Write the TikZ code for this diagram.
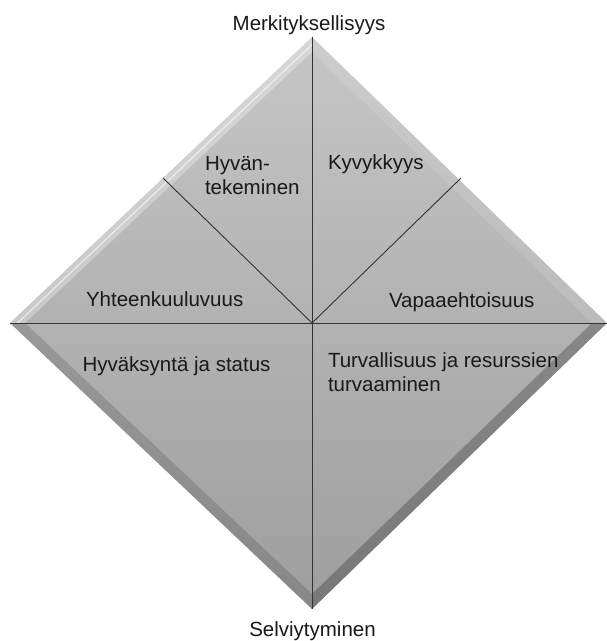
\documentclass[tikz,border=0pt]{standalone}
\usepackage{fontspec}
\setmainfont{Liberation Sans}
\usetikzlibrary{calc}
\begin{document}
\begin{tikzpicture}[x=1pt,y=-1pt,
  lbl/.style={inner sep=0pt,outer sep=0pt,font=\fontsize{20.5}{24}\selectfont,text=black!90,align=left},
  divider/.style={draw=black!80,line width=0.9pt}]
\useasboundingbox (0,0) rectangle (607,641);
% vertices
\coordinate (T) at (312,37);
\coordinate (L) at (10,323);
\coordinate (R) at (607,323);
\coordinate (B) at (312,609);
\coordinate (C) at (312,323);
\coordinate (Ti) at (312,52);
\coordinate (Li) at (25,323);
\coordinate (Ri) at (592,323);
\coordinate (Bi) at (312,594);
\coordinate (ML) at (163,178);
\coordinate (MR) at (461,178);
% main body
\shade[top color={rgb,255:red,198;green,198;blue,198},bottom color={rgb,255:red,158;green,158;blue,158}]
  (T) -- (R) -- (B) -- (L) -- cycle;
% bevel strips
\fill[white,opacity=0.30] (L) -- (T) -- (Ti) -- (Li) -- cycle;
\fill[white,opacity=0.12] (T) -- (R) -- (Ri) -- (Ti) -- cycle;
\fill[black,opacity=0.14] (L) -- (B) -- (Bi) -- (Li) -- cycle;
\fill[black,opacity=0.24] (B) -- (R) -- (Ri) -- (Bi) -- cycle;
\draw[white,opacity=0.6,line width=1.2pt] ($(L)!0.5!(Li)$) -- ($(T)!0.5!(Ti)$);
% dividers
\draw[divider] (T) -- (B);
\draw[divider] (L) -- (R);
\draw[divider] (C) -- (ML);
\draw[divider] (C) -- (MR);
% labels
\node[lbl,anchor=base] (top) at (309,30) {Merkityksellisyys};
\node[lbl,anchor=base] (bottom) at (312.5,636) {Selviytyminen};
\node[lbl,anchor=base west] (hyvan) at (205,194.5) {Hyvän-\\tekeminen};
\node[lbl,anchor=base west] (kyvyk) at (328,169) {Kyvykkyys};
\node[lbl,anchor=base west] (yht) at (86,306) {Yhteenkuuluvuus};
\node[lbl,anchor=base west] (vapaa) at (389,307) {Vapaaehtoisuus};
\node[lbl,anchor=base west] (hyvak) at (82.5,371.5) {Hyväksyntä ja status};
\node[lbl,anchor=base west] (turva) at (328,391.5) {Turvallisuus ja resurssien\\turvaaminen};
\end{tikzpicture}
\end{document}
